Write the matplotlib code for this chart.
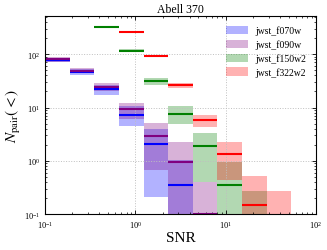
import numpy as np
import matplotlib
matplotlib.use("Agg")
import matplotlib.pyplot as plt
from matplotlib.patches import Patch

plt.rcParams['font.family'] = ['Liberation Serif', 'DejaVu Serif']
plt.rcParams['mathtext.fontset'] = 'stix'

# log-spaced SNR bins
edges = np.logspace(-1, 2, 12)[:11]

nan = np.nan
filters = ['jwst_f070w', 'jwst_f090w', 'jwst_f150w2', 'jwst_f322w2']
colors = ['blue', 'purple', 'green', 'red']

f070w_val = [78, 46.6, 22, 7.3, 2.1, 0.355, nan, nan, nan, nan]
f070w_lo = [71, 41, 17.5, 4.45, 0.21, 0.05, nan, nan, nan, nan]
f070w_hi = [86, 52, 26, 10.6, 4.0, 1.05, nan, nan, nan, nan]

f090w_val = [80.6, 48.7, 24.5, 9.4, 2.95, 0.96, 0.1, nan, nan, nan]
f090w_lo = [73, 44, 20.8, 6.2, 0.66, 0.05, 0.05, nan, nan, nan]
f090w_hi = [88, 54, 29, 12.2, 5.2, 2.24, 0.4, nan, nan, nan]

f150w2_val = [nan, nan, 321, 116, 31.6, 7.7, 1.88, 0.355, nan, nan]
f150w2_lo = [nan, nan, 314, 110, 26, 4.87, 0.4, 0.05, 0.05, nan]
f150w2_hi = [nan, nan, 330, 123, 36.5, 10.6, 3.3, 0.94, 0.27, nan]

f322w2_val = [nan, nan, nan, 258, 94, 25.9, 5.8, 1.35, 0.15, nan]
f322w2_lo = [nan, nan, nan, 250, 90, 23, 4.3, 0.43, 0.05, 0.05]
f322w2_hi = [nan, nan, nan, 267, 98, 29, 7.3, 2.24, 0.51, 0.27]

series = [
    (f070w_val, f070w_lo, f070w_hi),
    (f090w_val, f090w_lo, f090w_hi),
    (f150w2_val, f150w2_lo, f150w2_hi),
    (f322w2_val, f322w2_lo, f322w2_hi),
]

fig = plt.figure(figsize=(3.27, 2.51), dpi=100)
ax = fig.add_axes([0.138, 0.143, 0.828, 0.789])

for (val, lo, hi), c in zip(series, colors):
    for i in range(len(val)):
        if not np.isnan(hi[i]):
            ax.fill_between(edges[i:i + 2], lo[i], hi[i], color=c, alpha=0.3, lw=0)
        if not np.isnan(val[i]):
            ax.hlines(val[i], edges[i], edges[i + 1], color=c, lw=1.5)

ax.set_xscale('log')
ax.set_yscale('log')
ax.set_xlim(0.1, 100)
ax.set_ylim(0.1, 520)
ax.grid(True, which='major', color='0.75', ls=':', lw=0.7)
ax.tick_params(which='both', direction='in', top=True, right=True, labelsize=6)
ax.tick_params(which='major', length=3, width=0.6)
ax.tick_params(which='minor', length=1.5, width=0.5)
for s in ax.spines.values():
    s.set_linewidth(0.8)

ax.set_title('Abell 370', fontsize=8.5, pad=3)
ax.set_xlabel('SNR', fontsize=11, labelpad=1)
ax.set_ylabel(r'$N_{\rm pair}(<)$', fontsize=11, labelpad=1)

handles = [Patch(color=c, alpha=0.3, lw=0) for c in colors]
ax.legend(handles, filters, loc='upper right', fontsize=7, frameon=False,
          handlelength=2.2, handleheight=0.9, labelspacing=0.42,
          handletextpad=0.8, borderaxespad=0.6)

fig.savefig('out.png', dpi=100)
